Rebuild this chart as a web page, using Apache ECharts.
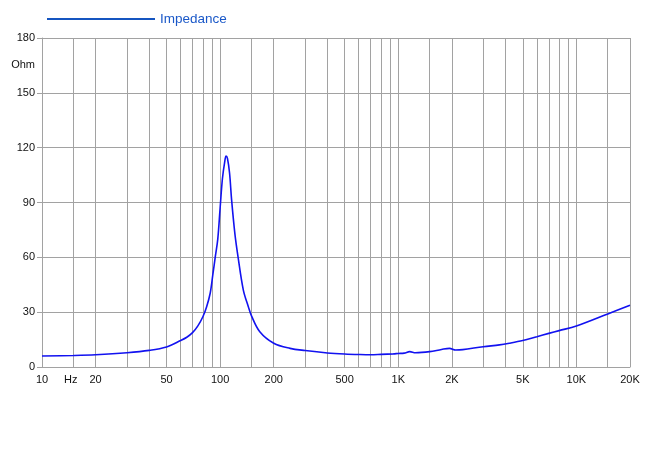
<!DOCTYPE html>
<html>
<head>
<meta charset="utf-8">
<script src="https://cdn.jsdelivr.net/npm/echarts@6/dist/echarts.min.js"></script>
<style>html,body{margin:0;padding:0;background:#fff}#c{width:650px;height:472px}</style>
</head>
<body>
<div id="c"></div>
<script>
const freq = [10, 15, 20, 30, 40, 50, 60, 65, 70, 75, 80, 84, 88, 91, 94, 97, 100, 103, 106, 108, 110, 113, 116, 121, 126, 135, 144, 150, 167, 200, 247, 300, 400, 500, 610, 700, 800, 940, 1000, 1080, 1160, 1250, 1500, 1750, 1940, 2100, 2300, 3000, 3700, 4200, 5000, 6000, 7000, 8000, 10000, 15000, 20000];
const impedance = [6.0, 6.3, 6.7, 7.8, 9.1, 11.0, 14.5, 16.3, 18.8, 22.5, 27.5, 33.0, 40.5, 50.5, 60.5, 70.0, 87.0, 103.0, 112.0, 115.4, 114.0, 106.0, 91.4, 73.0, 60.4, 42.1, 33.0, 28.0, 19.3, 13.0, 10.2, 9.0, 7.7, 7.1, 6.8, 6.7, 6.9, 7.2, 7.4, 7.6, 8.4, 7.8, 8.4, 9.6, 10.2, 9.3, 9.5, 11.1, 12.1, 13.0, 14.5, 16.6, 18.4, 19.9, 22.4, 29.0, 33.8];
const xGridValues = [10, 15, 20, 30, 40, 50, 60, 70, 80, 90, 100, 150, 200, 300, 400, 500, 600, 700, 800, 900, 1000, 1500, 2000, 3000, 4000, 5000, 6000, 7000, 8000, 9000, 10000, 15000, 20000];
const xLabelValues = [10, 14.5, 20, 50, 100, 200, 500, 1000, 2000, 5000, 10000, 20000];
const xLabelTexts = ['10', 'Hz', '20', '50', '100', '200', '500', '1K', '2K', '5K', '10K', '20K'];
const yTickValues = [0, 30, 60, 90, 120, 150, 180];
const yLabelValues = [0, 30, 60, 90, 120, 150, 165, 180];
const yLabelTexts = ['0', '30', '60', '90', '120', '150', 'Ohm', '180'];
const seriesName = 'Impedance';

const chart = echarts.init(document.getElementById('c'), null, {renderer: 'canvas'});
const gridColor = '#a2a2a2';
chart.setOption({
  animation: false,
  backgroundColor: '#ffffff',
  textStyle: {fontFamily: 'Liberation Sans, Arial, sans-serif'},
  legend: {
    left: 42, top: 7,
    itemWidth: 108, itemHeight: 2, itemGap: 5,
    data: [{name: seriesName, icon: 'rect', itemStyle: {color: '#1555c0'}}],
    textStyle: {color: '#1a58c8', fontSize: 13.5, fontFamily: 'Liberation Sans, Arial, sans-serif'}
  },
  grid: {left: 42, right: 20, top: 38, bottom: 105, containLabel: false},
  xAxis: {
    type: 'log', logBase: 10, min: 10, max: 20000,
    axisLine: {show: true, lineStyle: {color: gridColor}},
    axisTick: {show: false, customValues: xGridValues},
    splitLine: {show: true, customValues: xGridValues, lineStyle: {color: gridColor, width: 1}},
    minorSplitLine: {show: false},
    axisLabel: {
      customValues: xLabelValues,
      margin: 7,
      color: '#111', fontSize: 11,
      formatter: function (v) {
        for (let i = 0; i < xLabelValues.length; i++) {
          if (Math.abs(xLabelValues[i] - v) / xLabelValues[i] < 1e-6) return xLabelTexts[i];
        }
        return '';
      }
    }
  },
  yAxis: {
    type: 'value', min: 0, max: 180, interval: 30,
    axisLine: {show: true, lineStyle: {color: gridColor}},
    axisTick: {show: true, length: 5, customValues: yTickValues, lineStyle: {color: gridColor}},
    splitLine: {show: true, lineStyle: {color: gridColor, width: 1}},
    axisLabel: {
      customValues: yLabelValues,
      margin: 7,
      color: '#111', fontSize: 11,
      formatter: function (v) {
        const i = yLabelValues.indexOf(v);
        return i >= 0 ? yLabelTexts[i] : '';
      }
    }
  },
  series: [{
    name: seriesName,
    type: 'line',
    data: freq.map((f, i) => [f, impedance[i]]),
    symbol: 'none',
    smooth: 0.35,
    lineStyle: {color: '#1212f0', width: 1.6},
    itemStyle: {color: '#1212f0'}
  }]
});
</script>
</body>
</html>
